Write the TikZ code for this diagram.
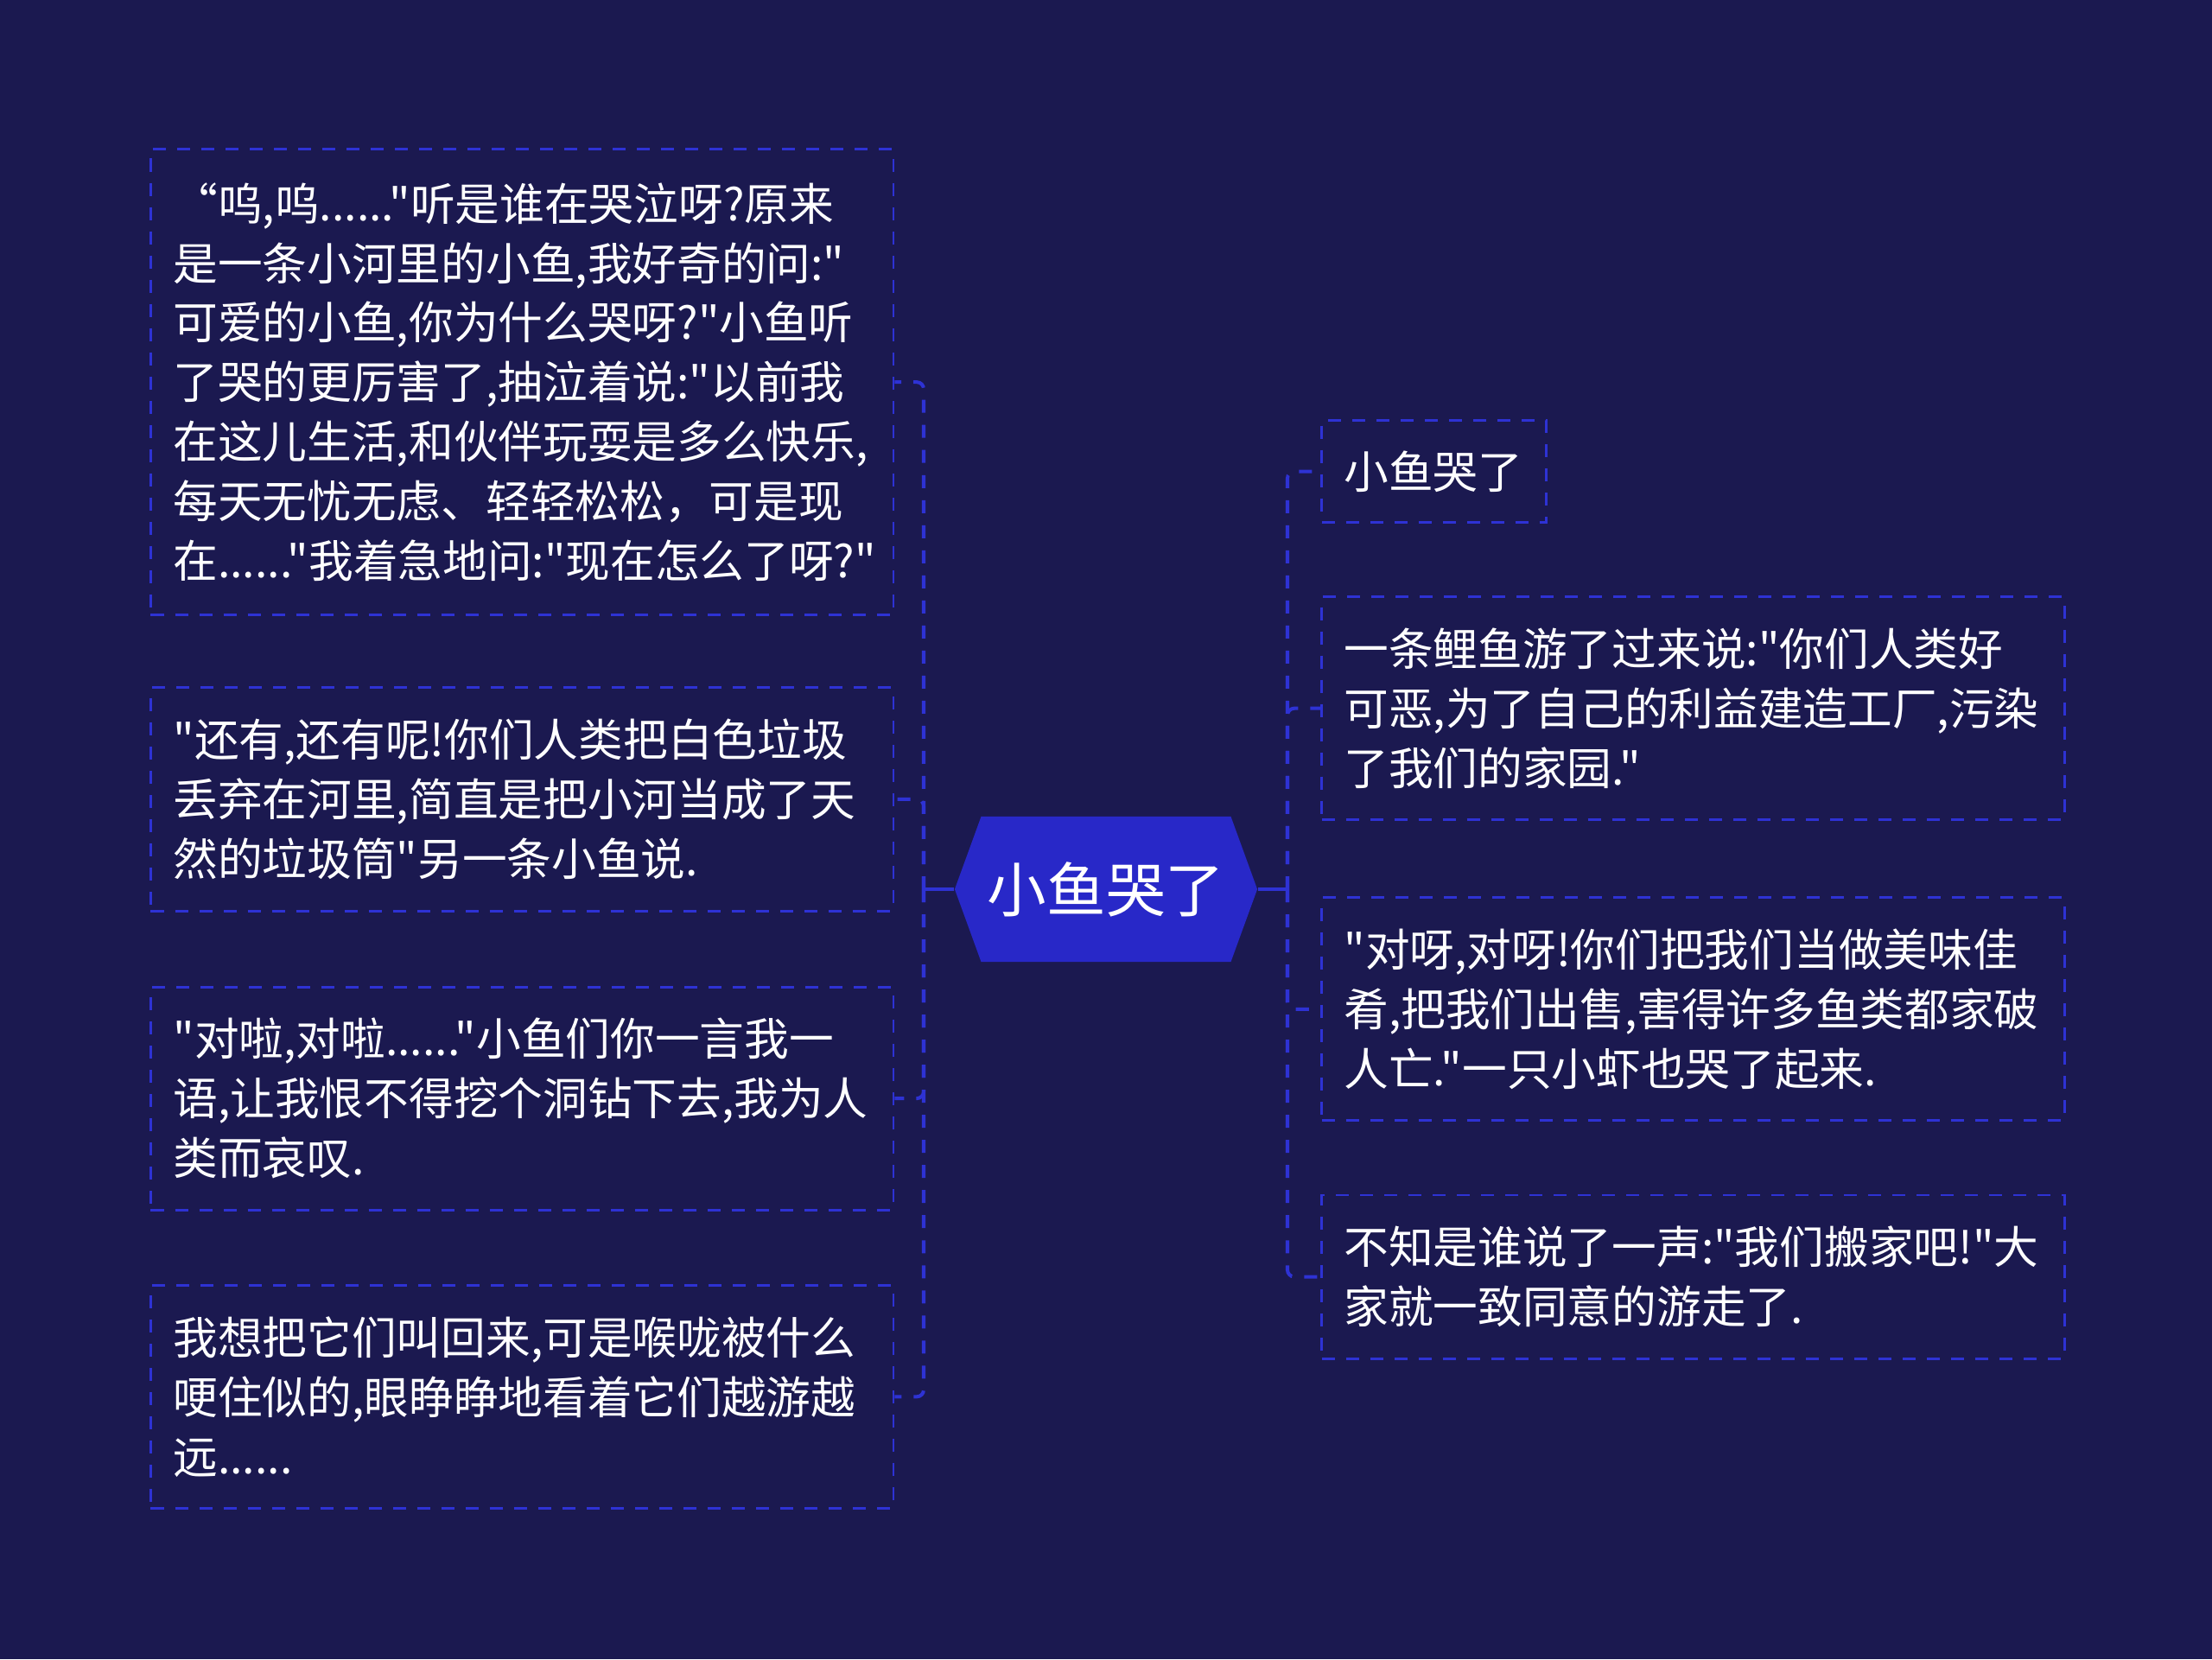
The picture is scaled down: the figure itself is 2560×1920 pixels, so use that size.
\documentclass[tikz,border=0pt]{standalone}
\usepackage{fontspec}
\setmainfont{Noto Sans CJK SC}[Ligatures=TeXOff]
\usetikzlibrary{positioning, shapes.symbols}
\definecolor{bgnavy}{RGB}{27,25,80}
\definecolor{hubblue}{RGB}{40,40,200}
\definecolor{dashblue}{RGB}{46,50,212}

\begin{document}
\begin{tikzpicture}[x=0.01cm, y=-0.01cm,
  leaf/.style={draw=dashblue, line width=0.85pt, dash pattern=on 0.15cm off 0.13cm,
    text=white, align=left, anchor=north west, inner xsep=0.26cm, inner ysep=0pt,
    text width=8.07cm, font=\fontsize{14.7}{19.6}\selectfont},
  hub/.style={signal, signal to=east and west, signal pointer angle=140, fill=hubblue,
    text=white, minimum width=3.5cm, minimum height=1.68cm, inner sep=0pt,
    font=\fontsize{19.5}{24}\selectfont},
  trunk/.style={dashblue, line width=1.15pt},
  link/.style={trunk, dash pattern=on 0.15cm off 0.14cm, rounded corners=0.08cm}]
  % background and page frame
  \fill[bgnavy] (0,0) rectangle (2560,1920);
  \useasboundingbox (0,0) rectangle (2560,1920);
  % central topic
  \node[hub] (hub) at (1280,1029) {小鱼哭了};
  \coordinate (lbus) at (1069,1029);
  \coordinate (rbus) at (1490,1029);
  % left branch
  \node[leaf, minimum height=5.39cm] (L1) at (173,171) {“呜,呜......"听是谁在哭泣呀?原来\\是一条小河里的小鱼,我好奇的问:"\\可爱的小鱼,你为什么哭呀?"小鱼听\\了哭的更厉害了,抽泣着说:"以前我\\在这儿生活,和伙伴玩耍是多么快乐,\\每天无忧无虑、轻轻松松，可是现\\在......"我着急地问:"现在怎么了呀?"};
  \node[leaf, minimum height=2.58cm, below=0.81cm of L1] (L2) {"还有,还有呢!你们人类把白色垃圾\\丢弃在河里,简直是把小河当成了天\\然的垃圾筒"另一条小鱼说.};
  \node[leaf, minimum height=2.58cm, below=0.85cm of L2] (L3) {"对啦,对啦......"小鱼们你一言我一\\语,让我恨不得挖个洞钻下去,我为人\\类而哀叹.};
  \node[leaf, minimum height=2.58cm, below=0.84cm of L3] (L4) {我想把它们叫回来,可是喉咙被什么\\哽住似的,眼睁睁地看着它们越游越\\远......};
  % right branch
  \node[leaf, minimum height=1.18cm, text width=2.08cm] (R1) at (1528,485) {小鱼哭了};
  \node[leaf, minimum height=2.58cm, below=0.83cm of R1.south west, anchor=north west] (R2) {一条鲤鱼游了过来说:"你们人类好\\可恶,为了自己的利益建造工厂,污染\\了我们的家园."};
  \node[leaf, minimum height=2.58cm, below=0.87cm of R2] (R3) {"对呀,对呀!你们把我们当做美味佳\\肴,把我们出售,害得许多鱼类都家破\\人亡."一只小虾也哭了起来.};
  \node[leaf, minimum height=1.89cm, below=0.83cm of R3] (R4) {不知是谁说了一声:"我们搬家吧!"大\\家就一致同意的游走了.};
  % connectors
  \draw[trunk] (hub.west) -- (lbus);
  \draw[trunk] (hub.east) -- (rbus);
  \foreach \leafname in {L1,L2,L3,L4}{\draw[link] (lbus) |- (\leafname.east);}
  \foreach \leafname in {R1,R2,R3,R4}{\draw[link] (rbus) |- (\leafname.west);}
\end{tikzpicture}
\end{document}
